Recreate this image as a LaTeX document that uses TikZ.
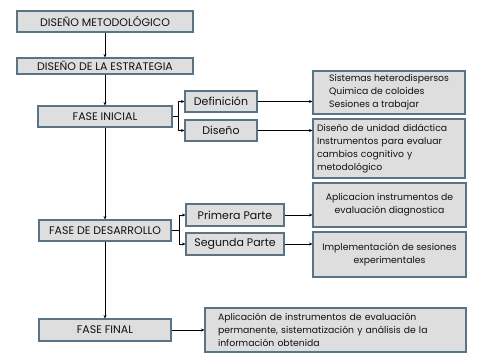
\documentclass[tikz,border=0pt]{standalone}
\usepackage{fontspec}
\setmainfont{Poppins}
\usetikzlibrary{arrows.meta}
\definecolor{boxfill}{HTML}{DEDEDE}
\definecolor{boxline}{HTML}{5A7486}
\definecolor{txt}{HTML}{111111}
\begin{document}
\begin{tikzpicture}[x=1pt,y=-1pt,
  box/.style={draw=boxline,line width=1.1pt,fill=boxfill,inner sep=1pt,text=txt,font=\fontsize{11}{12}\selectfont},
  sbox/.style={box,font=\fontsize{9.3}{13}\selectfont},
  arr/.style={line width=0.9pt,-{Stealth[length=3.5pt,width=3pt]}},
  ln/.style={line width=0.9pt}]
\useasboundingbox (0,0) rectangle (482,364);
\node[box,minimum width=176pt,minimum height=21pt] (m1) at (105,21.5) {DISEÑO METODOLÓGICO};
\node[box,minimum width=176pt,minimum height=16pt] (m2) at (105,66) {DISEÑO DE LA ESTRATEGIA};
\node[box,minimum width=134pt,minimum height=21pt] (fi) at (105,116.5) {FASE INICIAL};
\node[box,minimum width=72pt,minimum height=21pt] (def) at (221,101.5) {Definición};
\node[box,minimum width=72pt,minimum height=21pt] (dis) at (221,130.5) {Diseño};
\node[sbox,minimum width=152pt,minimum height=43pt,align=left] (sis) at (389,92.5) {Sistemas heterodispersos\\Quimica de coloides\\Sesiones a trabajar};
\node[sbox,minimum width=152pt,minimum height=59pt,align=left,text width=144pt] (dud) at (389,148.5) {Diseño de unidad didáctica\\Instrumentos para evaluar\\cambios cognitivo y\\metodológico};
\node[box,minimum width=132pt,minimum height=21pt] (fd) at (105,230.5) {FASE DE DESARROLLO};
\node[box,minimum width=98pt,minimum height=22pt] (pp) at (235,215) {Primera Parte};
\node[box,minimum width=98pt,minimum height=22pt] (sp) at (235,244) {Segunda Parte};
\node[sbox,minimum width=153pt,minimum height=44pt,align=center] (api) at (389.5,205) {Aplicacion instrumentos de\\evaluación diagnostica};
\node[sbox,minimum width=153pt,minimum height=45pt,align=center] (imp) at (389.5,254.5) {Implementación de sesiones\\experimentales};
\node[box,minimum width=132pt,minimum height=22pt] (ff) at (105,330) {FASE FINAL};
\node[sbox,minimum width=261pt,minimum height=44pt,align=left,text width=235pt] (fin) at (335.5,330) {Aplicación de instrumentos de evaluación\\permanente, sistematización y análisis de la\\información obtenida};
% main spine
\draw[arr] (m1.south) -- (m2.north);
\draw[arr] (m2.south) -- (fi.north);
\draw[arr] (fi.south) -- (fi.south |- fd.north);
\draw[arr] (fd.south -| fi.south) -- (fi.south |- ff.north);
% fase inicial branches
\draw[ln] (fi.east) -- ++(6,0) coordinate (b1);
\draw[arr] (b1) |- (def.west);
\draw[arr] (b1) |- (dis.west);
\draw[arr] (def.east) -- (def.east -| sis.west);
\draw[arr] (dis.east) -- (dis.east -| dud.west);
% fase desarrollo branches
\draw[ln] (fd.east) -- ++(8,0) coordinate (b2);
\draw[arr] (b2) |- (pp.west);
\draw[arr] (b2) |- (sp.west);
\draw[arr] (pp.east) -- (pp.east -| api.west);
\draw[arr] (sp.east) -- (sp.east -| imp.west);
% fase final
\draw[arr] (ff.east) -- (fin.west);
\end{tikzpicture}
\end{document}
